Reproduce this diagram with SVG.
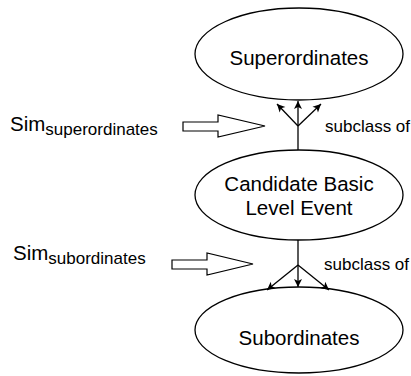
<svg xmlns="http://www.w3.org/2000/svg" width="411" height="376" viewBox="0 0 411 376">
<style>
.node ellipse{fill:#fff;stroke:#000;stroke-width:1.3}
.lbl{font-family:"Liberation Sans",Arial,sans-serif;fill:#000}
.big{font-size:20.5px}
.sub{font-size:17px}
.conn line{stroke:#000;stroke-width:1.3}
.hollow{fill:#fff;stroke:#000;stroke-width:1.2}
</style>
<defs>
<marker id="ah" markerWidth="10" markerHeight="10" refX="9" refY="5" orient="auto" markerUnits="userSpaceOnUse">
<path d="M1,1 L9,5 L1,9 L3,5 z" fill="#000"/>
</marker>
</defs>
<rect width="411" height="376" fill="#fff"/>
<g id="superordinates" class="node">
<ellipse cx="299" cy="54" rx="104" ry="46"/>
<text class="lbl big" x="299" y="65" text-anchor="middle">Superordinates</text>
</g>
<g id="candidate" class="node">
<ellipse cx="299" cy="195" rx="104" ry="45"/>
<text class="lbl big" x="299" y="191" text-anchor="middle">Candidate Basic</text>
<text class="lbl big" x="299" y="215" text-anchor="middle">Level Event</text>
</g>
<g id="subordinates" class="node">
<ellipse cx="299" cy="330" rx="104" ry="43"/>
<text class="lbl big" x="299" y="345" text-anchor="middle">Subordinates</text>
</g>
<g id="connectors" class="conn">
<line x1="298" y1="150" x2="298" y2="126"/>
<line x1="298" y1="126" x2="298" y2="101" marker-end="url(#ah)"/>
<line x1="298" y1="126" x2="277" y2="104" marker-end="url(#ah)"/>
<line x1="298" y1="126" x2="321" y2="104" marker-end="url(#ah)"/>
<line x1="298" y1="240" x2="298" y2="265"/>
<line x1="298" y1="265" x2="298" y2="287" marker-end="url(#ah)"/>
<line x1="298" y1="265" x2="267" y2="290" marker-end="url(#ah)"/>
<line x1="298" y1="265" x2="329" y2="290" marker-end="url(#ah)"/>
</g>
<g id="sim-super">
<polygon class="hollow" points="183,122 218,122 218,115 265,126 218,137 218,131 183,131"/>
<text class="lbl" x="10" y="131"><tspan class="big">Sim</tspan><tspan class="sub" dy="4">superordinates</tspan></text>
</g>
<g id="sim-sub">
<polygon class="hollow" points="172,260 207,260 207,253 253,264 207,275 207,269 172,269"/>
<text class="lbl" x="13" y="260"><tspan class="big">Sim</tspan><tspan class="sub" dy="4">subordinates</tspan></text>
</g>
<text class="lbl sub" x="325" y="132">subclass of</text>
<text class="lbl sub" x="324" y="270">subclass of</text>
</svg>
